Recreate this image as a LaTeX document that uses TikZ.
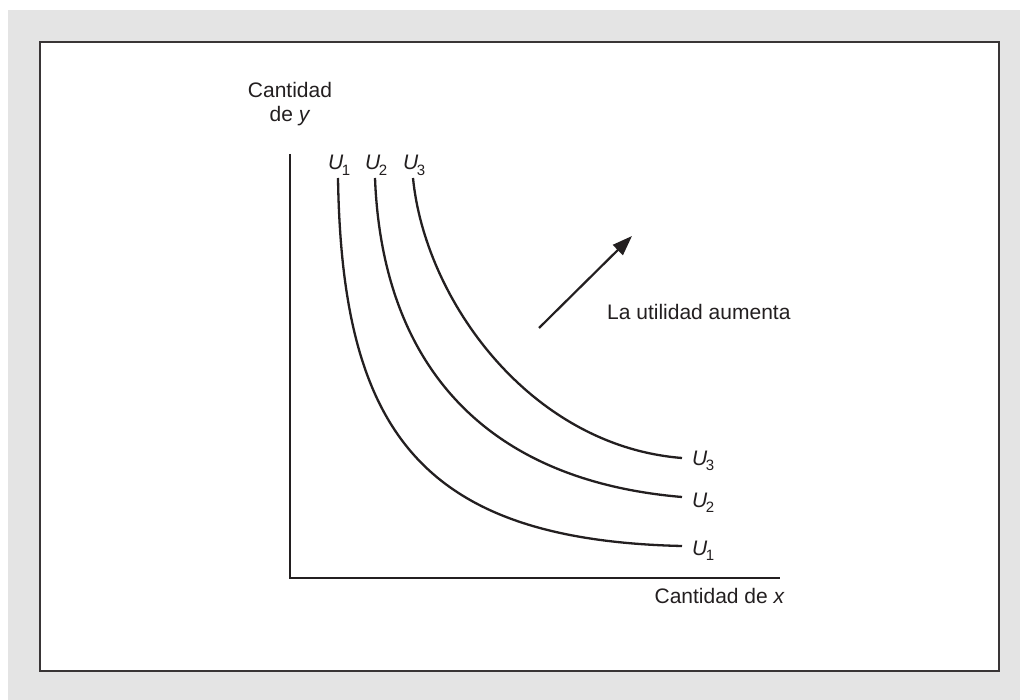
\documentclass[tikz,border=0pt]{standalone}
\usepackage{fontspec}
\setmainfont{Liberation Sans}
\usetikzlibrary{arrows.meta}
\definecolor{bggray}{RGB}{228,228,228}
\definecolor{ink}{RGB}{35,31,32}
\newcommand{\Ulab}[1]{\textit{U}\kern-1.5pt\raisebox{-0.28em}{\fontsize{15}{15}\selectfont #1}}
\tikzset{
  lbl/.style={font=\fontsize{21}{25}\selectfont, text=ink, inner sep=0pt},
  axis/.style={draw=ink, line width=1.8pt},
  curve/.style={draw=ink, line width=2.3pt},
}
\begin{document}
\begin{tikzpicture}[x=1pt,y=-1pt]
\useasboundingbox (0,0) rectangle (1020,700);
\fill[white] (0,0) rectangle (1020,700);
\fill[bggray] (8,10) rectangle (1020,700);
\draw[fill=white, draw=ink!90, line width=2pt] (40,42) rectangle (999,671);
% axes
\coordinate (ytop) at (290,154);
\coordinate (orig) at (290,578);
\coordinate (xend) at (780,578);
\draw[axis] (ytop) -- (orig) -- (xend);
\node[lbl, align=center, anchor=base] (ylab) at (290,122) {Cantidad\\[-1pt]de \textit{y}};
\node[lbl, anchor=base east] (xlab) at (785,603) {Cantidad de \textit{x}};
% curve endpoints
\coordinate (a1) at (338,178); \coordinate (b1) at (682,546);
\coordinate (a2) at (375,178); \coordinate (b2) at (682,497);
\coordinate (a3) at (413,178); \coordinate (b3) at (682,458);
\draw[curve] (a1) .. controls (342,430) and (420,540) .. (b1);
\draw[curve] (a2) .. controls (382,360) and (480,480) .. (b2);
\draw[curve] (a3) .. controls (425,300) and (530,446) .. (b3);
% labels
\node[lbl, anchor=base west] (t1) at (328,170) {\Ulab{1}};
\node[lbl, anchor=base west] (t2) at (365,170) {\Ulab{2}};
\node[lbl, anchor=base west] (t3) at (403,170) {\Ulab{3}};
\node[lbl, anchor=base west] (r1) at (692,555) {\Ulab{1}};
\node[lbl, anchor=base west] (r2) at (692,507) {\Ulab{2}};
\node[lbl, anchor=base west] (r3) at (692,465) {\Ulab{3}};
% arrow
\coordinate (as) at (539,328);
\coordinate (ae) at (632,236);
\draw[draw=ink, line width=2.2pt, -{Triangle[length=20pt,width=14pt]}] (as) -- (ae);
\node[lbl, anchor=base west] (util) at (607,320) {La utilidad aumenta};
\end{tikzpicture}
\end{document}
